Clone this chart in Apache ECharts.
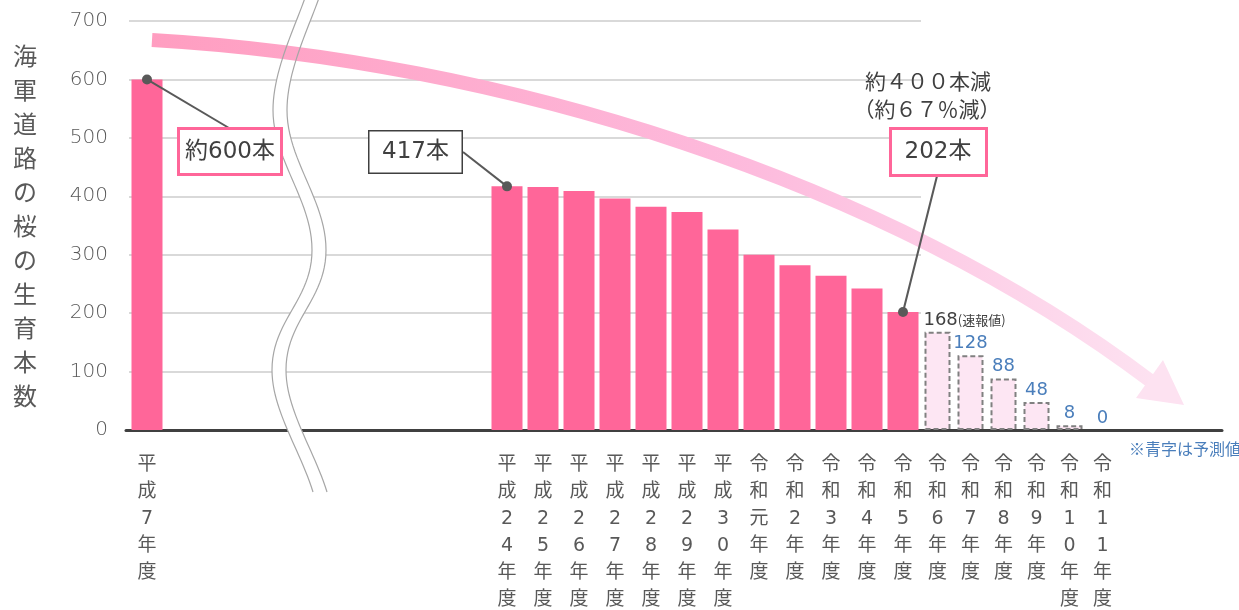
<!DOCTYPE html>
<html>
<head>
<meta charset="utf-8">
<script src="https://cdn.jsdelivr.net/npm/echarts@6/dist/echarts.min.js"></script>
<style>
  html, body { margin: 0; padding: 0; background: #fff; }
  #main { width: 1239px; height: 610px; }
</style>
</head>
<body>
<div id="main"></div>
<script>
// 実績値（平成7年度 と 平成24年度〜令和5年度）
const actualYears = ['平成7年度', '平成24年度', '平成25年度', '平成26年度', '平成27年度', '平成28年度',
  '平成29年度', '平成30年度', '令和元年度', '令和2年度', '令和3年度', '令和4年度', '令和5年度'];
const actualValues = [600, 417, 416, 409, 396, 382, 373, 343, 300, 282, 264, 242, 202];
// 速報値・予測値（令和6年度〜令和11年度）
const forecastYears = ['令和6年度', '令和7年度', '令和8年度', '令和9年度', '令和10年度', '令和11年度'];
const forecastValues = [168, 128, 88, 48, 8, 0];
const breakSlots = 9; // 省略した年度（波線）の分の空き

const numFont = "'DejaVu Sans', 'Noto Sans CJK JP', sans-serif";
const jpFont = "'Noto Sans CJK JP', sans-serif";
const gray = '#595959';
const dark = '#404040';
const pink = '#FF6699';
const blue = '#4A7EBB';

// 軸用の配列を組み立てる（平成7年度の後に空きを入れる）
const axisYears = [actualYears[0]].concat(new Array(breakSlots).fill(''), actualYears.slice(1));
const axisValues = [actualValues[0]].concat(new Array(breakSlots).fill('-'), actualValues.slice(1));
const idxOf = name => axisYears.indexOf(name);
const vertical = v => v.split('').join('\n');

var myChart = echarts.init(document.getElementById('main'));

const xLabel = {
  interval: 0,
  margin: 22,
  color: gray,
  fontFamily: numFont,
  fontSize: 19,
  lineHeight: 27,
  formatter: vertical
};

var option = {
  animation: false,
  grid: [
    { left: 129, right: 318, top: 21, bottom: 180, outerBoundsMode: 'none', containLabel: false },   // 実績
    { left: 921, right: 120, top: 21, bottom: 180, outerBoundsMode: 'none', containLabel: false },   // 予測
    { left: 126, right: 17, top: 21, bottom: 180, outerBoundsMode: 'none', containLabel: false }     // 横軸の線
  ],
  xAxis: [
    {
      gridIndex: 0, type: 'category', data: axisYears,
      axisLine: { show: false }, axisTick: { show: false },
      axisLabel: xLabel
    },
    {
      gridIndex: 1, type: 'category', data: forecastYears,
      axisLine: { show: false }, axisTick: { show: false },
      axisLabel: xLabel
    },
    {
      gridIndex: 2, type: 'value', min: 0, max: 1,
      axisLine: { show: true, lineStyle: { color: dark, width: 3 } },
      axisTick: { show: false }, axisLabel: { show: false }, splitLine: { show: false }
    }
  ],
  yAxis: [
    {
      gridIndex: 0, type: 'value', min: 0, max: 700, interval: 100,
      name: vertical('海軍道路の桜の生育本数'),
      nameLocation: 'middle', nameRotate: 0, nameGap: 104,
      nameTextStyle: {
        color: gray, fontFamily: jpFont, fontSize: 24, lineHeight: 34,
        align: 'center', verticalAlign: 'middle'
      },
      axisLine: { show: false }, axisTick: { show: false },
      axisLabel: { color: gray, fontFamily: numFont, fontSize: 20, fontWeight: 300, margin: 21 },
      splitLine: { lineStyle: { color: '#D9D9D9', width: 2 } }
    },
    { gridIndex: 1, type: 'value', min: 0, max: 700, show: false },
    { gridIndex: 2, type: 'value', min: 0, max: 700, show: false }
  ],
  series: [
    {
      name: '実績',
      type: 'bar',
      xAxisIndex: 0, yAxisIndex: 0,
      data: axisValues,
      barWidth: 31,
      itemStyle: { color: pink },
      markPoint: {
        symbol: 'circle', symbolSize: 10,
        itemStyle: { color: gray },
        label: { show: false },
        data: ['平成7年度', '平成24年度', '令和5年度'].map(n => ({
          coord: [idxOf(n), axisValues[idxOf(n)]]
        }))
      }
    },
    {
      name: '予測',
      type: 'bar',
      xAxisIndex: 1, yAxisIndex: 1,
      barWidth: 26,
      itemStyle: { color: '#FDE6F3', borderColor: '#808080', borderWidth: 2, borderType: [5, 3] },
      label: {
        show: true, position: 'top', distance: 3,
        color: blue, fontFamily: numFont, fontSize: 18
      },
      data: forecastValues.map((v, i) => {
        if (i === 0) {
          return {
            value: v,
            label: {
              offset: [27, 0],
              formatter: p => '{a|' + p.value + '}{b|(速報値)}',
              rich: {
                a: { color: dark, fontFamily: numFont, fontSize: 18 },
                b: { color: dark, fontFamily: jpFont, fontSize: 13 }
              }
            }
          };
        }
        // 0本の年は枠を描かない
        return v === 0 ? { value: v, itemStyle: { borderWidth: 0 } } : v;
      })
    }
  ]
};
myChart.setOption(option);

// 注釈（引き出し線と枠）
const px = (name) => myChart.convertToPixel({ gridIndex: 0 }, [idxOf(name), axisValues[idxOf(name)]]);
const p7 = px('平成7年度');
const p24 = px('平成24年度');
const pR5 = px('令和5年度');

// 波線（省略記号）の点列
function cubicPts(p0, p1, p2, p3, n) {
  const out = [];
  for (let i = 0; i <= n; i++) {
    const t = i / n, m = 1 - t;
    out.push([
      m * m * m * p0[0] + 3 * m * m * t * p1[0] + 3 * m * t * t * p2[0] + t * t * t * p3[0],
      m * m * m * p0[1] + 3 * m * m * t * p1[1] + 3 * m * t * t * p2[1] + t * t * t * p3[1]
    ]);
  }
  return out;
}
const waveSegs = [
  [[306, -5], [296, 25], [273, 70], [273, 110]],
  [[273, 110], [273, 160], [312, 200], [312, 250]],
  [[312, 250], [312, 300], [272, 320], [272, 370]],
  [[272, 370], [272, 410], [300, 450], [313, 492]]
];
let waveL = [];
waveSegs.forEach(s => { waveL = waveL.concat(cubicPts(s[0], s[1], s[2], s[3], 24)); });
const waveR = waveL.map(p => [p[0] + 14, p[1]]);
const waveFill = waveL.concat(waveR.slice().reverse());

const boxText = (text, cx, cy, size) => ({
  type: 'text', z: 90,
  style: {
    text: text, x: cx, y: cy, align: 'center', verticalAlign: 'middle',
    fill: dark, font: '400 ' + size + 'px ' + numFont
  }
});

myChart.setOption({
  graphic: [
    { type: 'polygon', z: 50, shape: { points: waveFill }, style: { fill: '#fff' } },
    {
      type: 'bezierCurve', z: 60,
      shape: { x1: 152, y1: 40, cpx1: 500, cpy1: 60, cpx2: 886, cpy2: 180, x2: 1152, y2: 382 },
      style: {
        fill: null, lineWidth: 14, lineCap: 'butt',
        stroke: new echarts.graphic.LinearGradient(0, 0, 1, 0, [
          { offset: 0, color: '#FF9DC0' },
          { offset: 0.6, color: '#FDBBDD' },
          { offset: 1, color: '#FDE2F1' }
        ])
      }
    },
    {
      type: 'polygon', z: 60,
      shape: { points: [[1163, 360], [1184, 405], [1136, 398]] },
      style: { fill: '#FDE2F1' }
    },
    { type: 'polyline', z: 70, shape: { points: waveL }, style: { fill: null, stroke: '#A6A6A6', lineWidth: 1.2 } },
    { type: 'polyline', z: 70, shape: { points: waveR }, style: { fill: null, stroke: '#A6A6A6', lineWidth: 1.2 } },

    // 約600本
    { type: 'line', z: 80, shape: { x1: p7[0], y1: p7[1], x2: 229, y2: 128 }, style: { stroke: gray, lineWidth: 2 } },
    { type: 'rect', z: 85, shape: { x: 178.5, y: 128.5, width: 103, height: 46 }, style: { fill: '#fff', stroke: pink, lineWidth: 3 } },
    boxText('約600本', 230, 152, 23),

    // 417本
    { type: 'line', z: 80, shape: { x1: p24[0], y1: p24[1], x2: 463, y2: 152 }, style: { stroke: gray, lineWidth: 2 } },
    { type: 'rect', z: 85, shape: { x: 368.75, y: 130.75, width: 93.5, height: 42.5 }, style: { fill: '#fff', stroke: dark, lineWidth: 1.5 } },
    boxText('417本', 415.5, 152, 23),

    // 202本
    { type: 'line', z: 80, shape: { x1: pR5[0], y1: pR5[1], x2: 937, y2: 176 }, style: { stroke: gray, lineWidth: 2 } },
    { type: 'rect', z: 85, shape: { x: 890.5, y: 128.5, width: 96, height: 47 }, style: { fill: '#fff', stroke: pink, lineWidth: 3 } },
    boxText('202本', 938, 152, 23),

    boxText('約４００本減', 928, 84, 21),
    boxText('（約６７％減）', 927, 112, 21),

    {
      type: 'text', z: 90,
      style: {
        text: '※青字は予測値', x: 1129, y: 449, align: 'left', verticalAlign: 'middle',
        fill: blue, font: '400 16px ' + jpFont
      }
    }
  ]
});
</script>
</body>
</html>
